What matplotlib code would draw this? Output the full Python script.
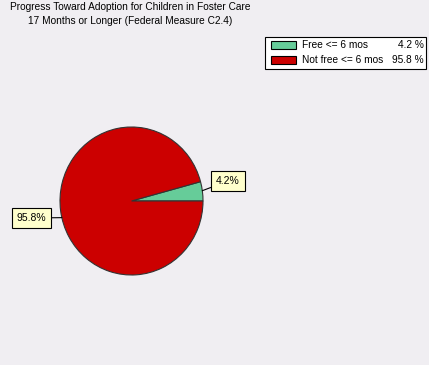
import matplotlib
matplotlib.use('Agg')
import matplotlib.pyplot as plt
from matplotlib.patches import Rectangle
import numpy as np

#%% data
title_lines = ['Progress Toward Adoption for Children in Foster Care',
               '17 Months or Longer (Federal Measure C2.4)']
categories = ['Free <= 6 mos', 'Not free <= 6 mos']
values = [4.2, 95.8]
colors = ['#66CC99', '#CC0000']

W, H = 429, 365
bg = '#F0EEF2'
plt.rcParams['font.family'] = ['Liberation Sans', 'DejaVu Sans']

fig = plt.figure(figsize=(W / 100, H / 100), dpi=100, facecolor=bg)

# title
fig.text(130 / W, 1 - 7 / H, title_lines[0], ha='center', va='center', fontsize=7.3)
fig.text(130 / W, 1 - 21 / H, title_lines[1], ha='center', va='center', fontsize=7.3)

#%% pie (slightly elliptical, as in the original)
cx, cy, rx, ry = 131.5, 201, 71.5, 74
ax = fig.add_axes([(cx - rx) / W, (H - cy - ry) / H, 2 * rx / W, 2 * ry / H])
ax.set_facecolor(bg)
wedges, _ = ax.pie(values, colors=colors, startangle=0, counterclock=True,
                   wedgeprops=dict(edgecolor='#333333', linewidth=0.8))
ax.set_aspect('auto')
ax.set_xlim(-1, 1)
ax.set_ylim(-1, 1)
ax.axis('off')

# labels with leader lines
label_pos = [(228, 181), (31, 218)]
edge_deg = [8, 193]
for i, v in enumerate(values):
    mid = np.deg2rad(edge_deg[i])
    ex, ey = np.cos(mid), np.sin(mid)
    lx = (label_pos[i][0] - cx) / rx
    ly = -(label_pos[i][1] - cy) / ry
    ax.annotate('%.1f%%' % v, xy=(ex, ey), xytext=(lx, ly),
                ha='center', va='center', fontsize=7.5, annotation_clip=False,
                bbox=dict(boxstyle='square,pad=0.45', fc='#FFFFCC', ec='black', lw=0.8),
                arrowprops=dict(arrowstyle='-', color='black', lw=0.8,
                                shrinkA=0, shrinkB=0))

#%% legend
lx0, ly0, lw, lh = 265, 37, 161, 32
fig.patches.append(Rectangle((lx0 / W, 1 - (ly0 + lh) / H), lw / W, lh / H,
                             transform=fig.transFigure, fc='white', ec='black',
                             lw=0.8))
for i, (c, v) in enumerate(zip(categories, values)):
    yy = 45 + i * 15
    fig.patches.append(Rectangle((271 / W, 1 - (yy + 4) / H), 25 / W, 8 / H,
                                 transform=fig.transFigure, fc=colors[i],
                                 ec='black', lw=0.8))
    fig.text(302 / W, 1 - yy / H, c, ha='left', va='center', fontsize=7.3)
    fig.text(424 / W, 1 - yy / H, '%.1f %%' % v, ha='right', va='center', fontsize=7.3)

fig.savefig('out.png', dpi=100, facecolor=bg)
